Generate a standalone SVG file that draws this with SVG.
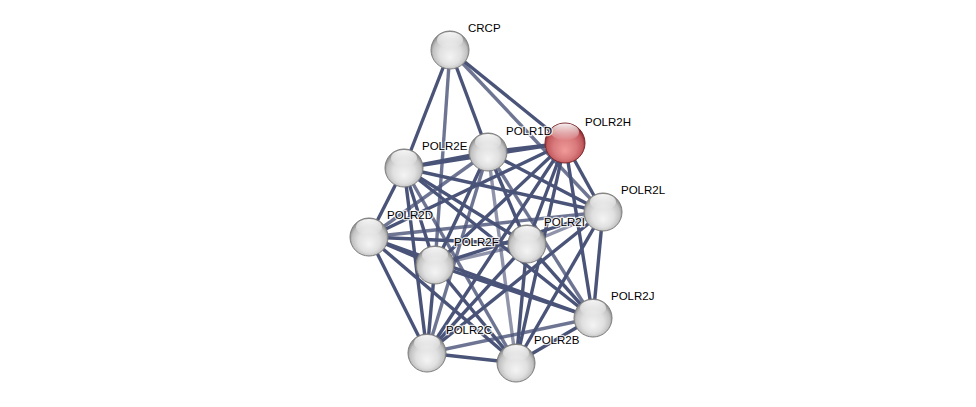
<svg xmlns="http://www.w3.org/2000/svg" width="976" height="407" viewBox="0 0 976 407">
<defs>
<radialGradient id="gGray" cx="50%" cy="55%" r="52%" fx="50%" fy="70%">
<stop offset="0" stop-color="#f4f4f4"/>
<stop offset="0.55" stop-color="#e0e0e0"/>
<stop offset="0.85" stop-color="#c2c2c2"/>
<stop offset="1" stop-color="#8e8e8e"/>
</radialGradient>
<radialGradient id="gRed" cx="50%" cy="55%" r="52%" fx="50%" fy="70%">
<stop offset="0" stop-color="#f09a9a"/>
<stop offset="0.55" stop-color="#d97a7c"/>
<stop offset="0.85" stop-color="#c25a5e"/>
<stop offset="1" stop-color="#8c2b30"/>
</radialGradient>
<linearGradient id="gHi" x1="0" y1="0" x2="0" y2="1">
<stop offset="0" stop-color="#ffffff" stop-opacity="0.95"/>
<stop offset="1" stop-color="#ffffff" stop-opacity="0"/>
</linearGradient>
</defs>
<style>
.e{stroke:#4a5378;stroke-width:3.4;fill:none;stroke-linecap:butt}
.l{stroke-opacity:0.62}
.m{stroke-opacity:0.8}
.n{stroke:#7d7d7d;stroke-width:1}
.r{stroke:#7a2a2e;stroke-width:1}
.h{fill:url(#gHi)}
text{font-family:"Liberation Sans",Arial,sans-serif;font-size:11.5px;fill:#000;stroke:#fff;stroke-width:2.5;stroke-opacity:0.8;paint-order:stroke;stroke-linejoin:round}
</style>
<rect width="976" height="407" fill="#fff"/>
<g id="edges">
<line class="e" x1="450" y1="50" x2="404" y2="168"/>
<line class="e" x1="450" y1="50" x2="488" y2="152"/>
<line class="e" x1="450" y1="50" x2="565" y2="143"/>
<line class="e m" x1="450" y1="50" x2="603" y2="212"/>
<line class="e m" x1="450" y1="50" x2="435" y2="265"/>
<line class="e" x1="488" y1="152" x2="565" y2="143"/>
<line class="e" x1="488" y1="152" x2="404" y2="168"/>
<line class="e" x1="488" y1="152" x2="603" y2="212"/>
<line class="e m" x1="488" y1="152" x2="369" y2="237"/>
<line class="e" x1="488" y1="152" x2="527" y2="244"/>
<line class="e" x1="488" y1="152" x2="435" y2="265"/>
<line class="e m" x1="488" y1="152" x2="593" y2="318"/>
<line class="e m" x1="488" y1="152" x2="427" y2="353"/>
<line class="e l" x1="488" y1="152" x2="516" y2="363"/>
<line class="e" x1="565" y1="143" x2="404" y2="168"/>
<line class="e" x1="565" y1="143" x2="603" y2="212"/>
<line class="e" x1="565" y1="143" x2="369" y2="237"/>
<line class="e" x1="565" y1="143" x2="527" y2="244"/>
<line class="e" x1="565" y1="143" x2="435" y2="265"/>
<line class="e" x1="565" y1="143" x2="593" y2="318"/>
<line class="e" x1="565" y1="143" x2="427" y2="353"/>
<line class="e" x1="565" y1="143" x2="516" y2="363"/>
<line class="e" x1="404" y1="168" x2="603" y2="212"/>
<line class="e" x1="404" y1="168" x2="369" y2="237"/>
<line class="e" x1="404" y1="168" x2="527" y2="244"/>
<line class="e" x1="404" y1="168" x2="435" y2="265"/>
<line class="e" x1="404" y1="168" x2="593" y2="318"/>
<line class="e" x1="404" y1="168" x2="427" y2="353"/>
<line class="e m" x1="404" y1="168" x2="516" y2="363"/>
<line class="e m" x1="603" y1="212" x2="369" y2="237"/>
<line class="e l" x1="603" y1="212" x2="527" y2="244"/>
<line class="e" x1="603" y1="212" x2="435" y2="265"/>
<line class="e" x1="603" y1="212" x2="593" y2="318"/>
<line class="e" x1="603" y1="212" x2="427" y2="353"/>
<line class="e" x1="603" y1="212" x2="516" y2="363"/>
<line class="e" x1="369" y1="237" x2="527" y2="244"/>
<line class="e" x1="369" y1="237" x2="435" y2="265"/>
<line class="e" x1="369" y1="237" x2="593" y2="318"/>
<line class="e" x1="369" y1="237" x2="427" y2="353"/>
<line class="e" x1="369" y1="237" x2="516" y2="363"/>
<line class="e l" x1="527" y1="244" x2="435" y2="265"/>
<line class="e" x1="527" y1="244" x2="593" y2="318"/>
<line class="e" x1="527" y1="244" x2="427" y2="353"/>
<line class="e" x1="527" y1="244" x2="516" y2="363"/>
<line class="e" x1="435" y1="265" x2="593" y2="318"/>
<line class="e" x1="435" y1="265" x2="427" y2="353"/>
<line class="e" x1="435" y1="265" x2="516" y2="363"/>
<line class="e m" x1="593" y1="318" x2="427" y2="353"/>
<line class="e" x1="593" y1="318" x2="516" y2="363"/>
<line class="e" x1="427" y1="353" x2="516" y2="363"/>
</g>
<g id="node-CRCP"><circle class="n" cx="450" cy="50" r="19" fill="url(#gGray)"/><ellipse class="h" cx="450" cy="40" rx="13" ry="8"/><text x="468" y="32">CRCP</text></g>
<g id="node-POLR2H"><circle class="r" cx="565" cy="143" r="20" fill="url(#gRed)"/><ellipse class="h" cx="565" cy="132" rx="14" ry="8.5"/><text x="585" y="126">POLR2H</text></g>
<g id="node-POLR1D"><circle class="n" cx="488" cy="152" r="19" fill="url(#gGray)"/><ellipse class="h" cx="488" cy="142" rx="13" ry="8"/><text x="506" y="135">POLR1D</text></g>
<g id="node-POLR2E"><circle class="n" cx="404" cy="168" r="19" fill="url(#gGray)"/><ellipse class="h" cx="404" cy="158" rx="13" ry="8"/><text x="422" y="150">POLR2E</text></g>
<g id="node-POLR2D"><circle class="n" cx="369" cy="237" r="19" fill="url(#gGray)"/><ellipse class="h" cx="369" cy="227" rx="13" ry="8"/><text x="387" y="219">POLR2D</text></g>
<g id="node-POLR2I"><circle class="n" cx="527" cy="244" r="19" fill="url(#gGray)"/><ellipse class="h" cx="527" cy="234" rx="13" ry="8"/><text x="544" y="226">POLR2I</text></g>
<g id="node-POLR2L"><circle class="n" cx="603" cy="212" r="19" fill="url(#gGray)"/><ellipse class="h" cx="603" cy="202" rx="13" ry="8"/><text x="621" y="194">POLR2L</text></g>
<g id="node-POLR2F"><circle class="n" cx="435" cy="265" r="19" fill="url(#gGray)"/><ellipse class="h" cx="435" cy="255" rx="13" ry="8"/><text x="454" y="246">POLR2F</text></g>
<g id="node-POLR2J"><circle class="n" cx="593" cy="318" r="19" fill="url(#gGray)"/><ellipse class="h" cx="593" cy="308" rx="13" ry="8"/><text x="611" y="300">POLR2J</text></g>
<g id="node-POLR2C"><circle class="n" cx="427" cy="353" r="19" fill="url(#gGray)"/><ellipse class="h" cx="427" cy="343" rx="13" ry="8"/><text x="446" y="334">POLR2C</text></g>
<g id="node-POLR2B"><circle class="n" cx="516" cy="363" r="19" fill="url(#gGray)"/><ellipse class="h" cx="516" cy="353" rx="13" ry="8"/><text x="534" y="344">POLR2B</text></g>
</svg>
